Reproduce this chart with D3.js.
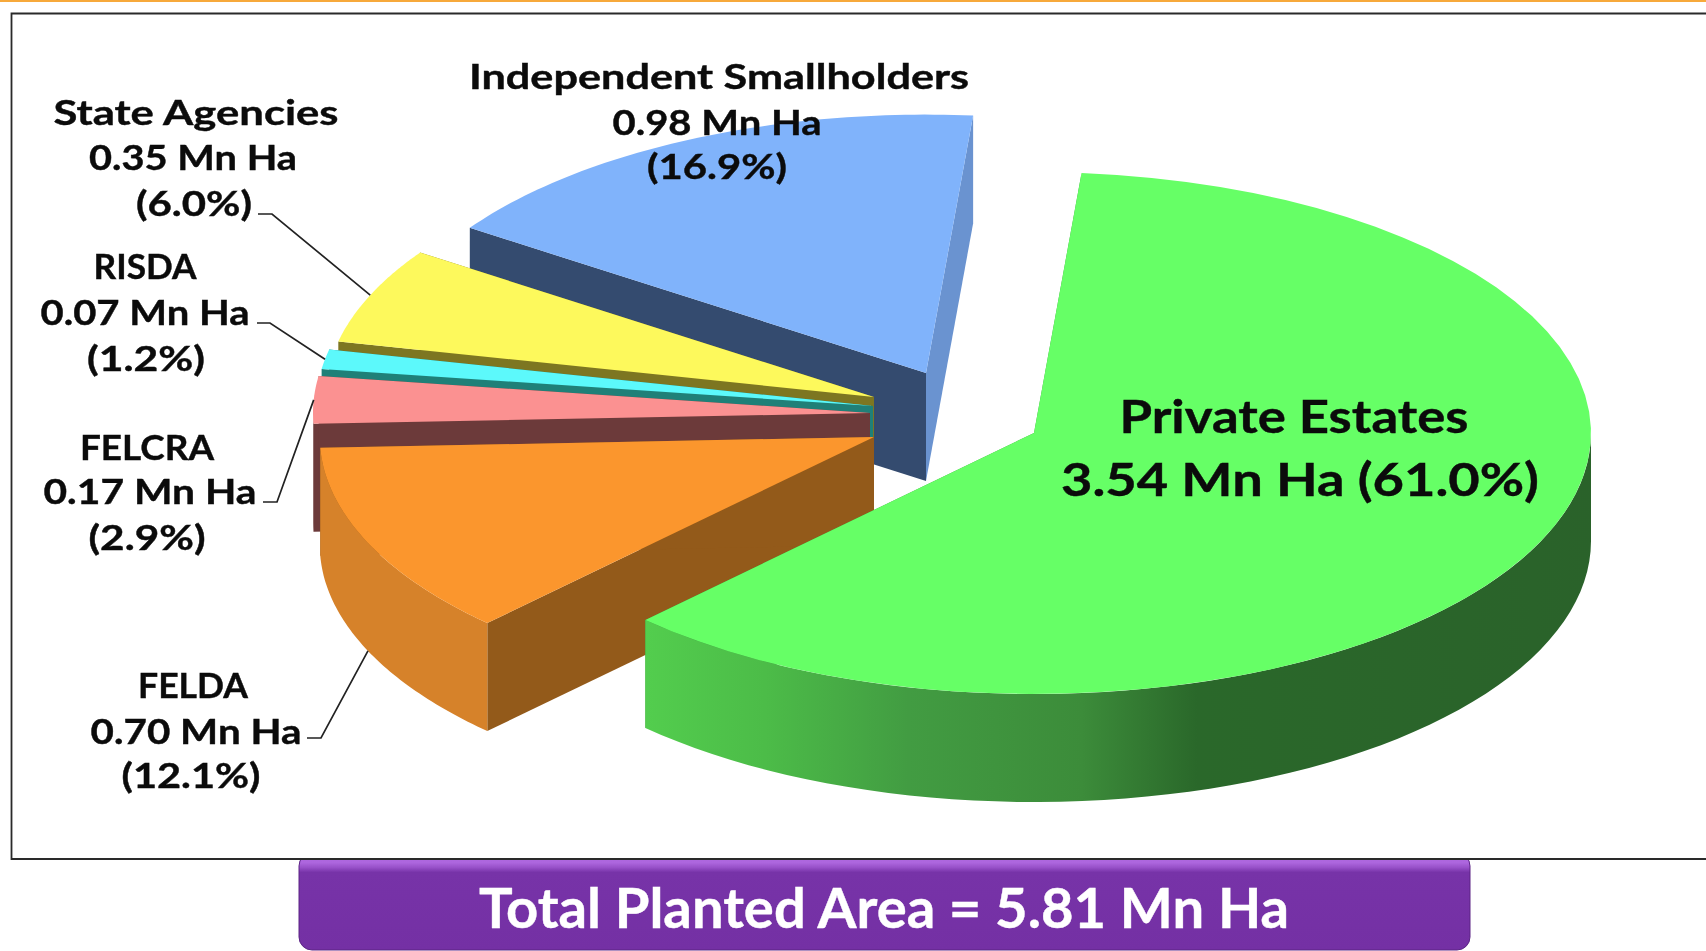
<!DOCTYPE html>
<html><head><meta charset="utf-8">
<script src="https://cdnjs.cloudflare.com/ajax/libs/d3/7.8.5/d3.min.js"></script>
<style>html,body{margin:0;padding:0;background:#fff;overflow:hidden}svg{display:block;filter:blur(0.45px)}
text{font-family:Lato,"Open Sans",sans-serif;font-weight:700;fill:#0b0b0b;stroke:#0b0b0b;stroke-width:0.4px}</style>
</head><body><svg id="c" width="1706" height="951"></svg>
<script>
// ---- data ----
const names = ["Private Estates","FELDA","FELCRA","RISDA","State Agencies","Independent Smallholders"];
const values = [3.54,0.70,0.17,0.07,0.35,0.98];
const percents = ["61.0","12.1","2.9","1.2","6.0","16.9"];
const totalLabel = "Total Planted Area = 5.81 Mn Ha";
// ---- styles ----
const topColors  = ["#66ff66","#fb962d","#fb9191","#5cf9fb","#fdf95c","#80b3fb"];
const startWall  = ["#3f9a3f","#935a1a","#6c3a3a","#1f8078","#7d7621","#344b6f"];
const endWall    = ["#3f9a3f","#935a1a","#6c3a3a","#1f8078","#7d7621","#6a93d0"];
const outerWall  = ["url(#greenWall)","#d6822a","#6c3a3a","#1f8078","#7d7621","#6a93d0"];
// ---- layout: apex of each exploded slice, ellipse radii, extrusion ----
const apexX = [1034,874,870,873,874,926];
const apexY = [433,437,413,406,397,373];
const radiusScale = [1,0.995,1,1,0.985,0.99];
const radiusX = 557, radiusY = 261, depth = 108;
const startDeg = 4.9;
// per-line label layout: centre x, baseline y, text width
const labelLayout = [
 [[1294,433,349],[1300,496,478]],
 [[193,698,110],[196,744,211],[191,788,139]],
 [[147,460,134],[150,504,213],[147,550,117]],
 [[145,279,103],[145,325,209],[146,371,118]],
 [[196,125,285],[193,170,208],[194,216,116]],
 [[719,89,500],[717,135,209],[717,179,140]]
];
const leaderElbow = [null,[[307,738],[321,738]],[[263,502],[277,502]],[[257,323],[270,323]],[[258,214],[272,214]],null];

const svg = d3.select("#c");
const defs = svg.append("defs");
const g = defs.append("linearGradient").attr("id","greenWall").attr("gradientUnits","userSpaceOnUse")
  .attr("x1",640).attr("x2",1600).attr("y1",0).attr("y2",0);
[[0,"#53ce4e"],[0.13,"#4cbc48"],[0.28,"#429c42"],[0.46,"#3c8c3a"],[0.58,"#2a682a"],[1,"#2a622a"]]
  .forEach(s=>g.append("stop").attr("offset",s[0]).attr("stop-color",s[1]));
const b = defs.append("linearGradient").attr("id","btn").attr("x1",0).attr("x2",0).attr("y1",0).attr("y2",1);
[[0,"#b06ae0"],[0.1,"#ad66de"],[0.15,"#9750c8"],[0.2,"#7733a8"],[1,"#7430a4"]]
  .forEach(s=>b.append("stop").attr("offset",s[0]).attr("stop-color",s[1]));

// top accent line
svg.append("rect").attr("x",0).attr("y",0).attr("width",1706).attr("height",2).attr("fill","#f7a93b");
// purple banner
svg.append("rect").attr("x",299).attr("y",853).attr("width",1171).attr("height",97).attr("rx",13)
  .attr("fill","url(#btn)").attr("stroke","#5c2585").attr("stroke-width",1);
// frame
svg.append("path").attr("d",d3.line()([[1720,13.5],[11.5,13.5],[11.5,859],[1720,859]]))
  .attr("fill","#fff").attr("stroke","#2a2a2a").attr("stroke-width",1.8);

const sx = d3.scaleLinear().domain([-1,1]).range([-radiusX,radiusX]);
const sy = d3.scaleLinear().domain([-1,1]).range([radiusY,-radiusY]);
const pie = d3.pie().sort(null).startAngle(startDeg*Math.PI/180).endAngle((startDeg+360)*Math.PI/180);
const arcs = pie(values);
const line = d3.line();
const pt = (i,t,dz=0)=>[apexX[i]+radiusScale[i]*sx(Math.sin(t)),apexY[i]+radiusScale[i]*sy(Math.cos(t))+dz];
const samples = (i,a0,a1,dz=0)=>d3.range(0,61).map(k=>pt(i,a0+(a1-a0)*k/60,dz));
const order = [5,4,3,2,1,0];
const pie3d = svg.append("g");
order.forEach(i=>{
  const a=arcs[i], A=[apexX[i],apexY[i]], A2=[A[0],A[1]+depth];
  const s0=pt(i,a.startAngle), e0=pt(i,a.endAngle);
  const s1=pt(i,a.startAngle,depth), e1=pt(i,a.endAngle,depth);
  pie3d.append("path").attr("d",line([A,s0,s1,A2])+"Z").attr("fill",startWall[i]);
  pie3d.append("path").attr("d",line([A,e0,e1,A2])+"Z").attr("fill",endWall[i]);
  const lo=Math.max(a.startAngle,Math.PI/2), hi=Math.min(a.endAngle,1.5*Math.PI);
  if(hi>lo){
    const top=samples(i,lo,hi), bot=samples(i,lo,hi,depth).reverse();
    pie3d.append("path").attr("d",line(top.concat(bot))+"Z").attr("fill",outerWall[i]);
  }
  pie3d.append("path").attr("d",line([A].concat(samples(i,a.startAngle,a.endAngle)))+"Z").attr("fill",topColors[i]);
});

// leader lines, ending at the middle of each slice's arc
leaderElbow.forEach((el,i)=>{
  if(!el) return;
  const mid=(arcs[i].startAngle+arcs[i].endAngle)/2;
  const end=pt(i,mid,i===1?depth:0);
  svg.append("path").attr("d",line(el.concat([end]))).attr("fill","none").attr("stroke","#222").attr("stroke-width",1.7);
});

function fit(sel,w){sel.attr("textLength",w).attr("lengthAdjust","spacingAndGlyphs");}
names.forEach((n,i)=>{
  const val=values[i].toFixed(2)+" Mn Ha", pc="("+percents[i]+"%)";
  const lines = i===0 ? [n,val+" "+pc] : [n,val,pc];
  lines.forEach((t,k)=>{
    const L=labelLayout[i][k];
    const tx=svg.append("text").attr("x",L[0]).attr("y",L[1]).attr("text-anchor","middle")
      .style("font-size",(i===0?46:34.5)+"px").text(t);
    fit(tx,L[2]);
  });
});
const tt=svg.append("text").attr("x",884).attr("y",928).attr("text-anchor","middle")
  .style("font-size","55px").style("fill","#fff").style("stroke","#fff").text(totalLabel);
fit(tt,810);
</script></body></html>
